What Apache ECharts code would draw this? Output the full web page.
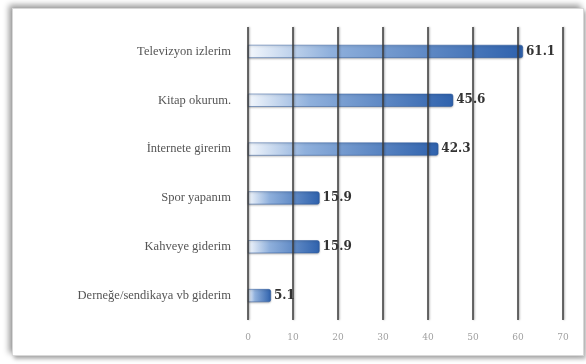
<!DOCTYPE html>
<html>
<head>
<meta charset="utf-8">
<script src="https://cdn.jsdelivr.net/npm/echarts@6/dist/echarts.min.js"></script>
<style>
html,body{margin:0;padding:0;background:#fff;width:586px;height:364px;overflow:hidden;}
#frame{position:absolute;left:12px;top:8px;width:570px;height:346px;background:#fff;border:1px solid #d8d8d8;box-shadow:-3px -3px 6px rgba(0,0,0,0.4),2px 3px 4px rgba(0,0,0,0.3);}
#chart{position:absolute;left:0;top:0;width:586px;height:364px;}
</style>
</head>
<body>
<div id="frame"></div>
<div id="chart"></div>
<script>
const categories = ["Televizyon izlerim","Kitap okurum.","İnternete girerim","Spor yapanım","Kahveye giderim","Derneğe/sendikaya vb giderim"];
const values = [61.1, 45.6, 42.3, 15.9, 15.9, 5.1];
const xTicks = [0, 10, 20, 30, 40, 50, 60, 70];

const chart = echarts.init(document.getElementById('chart'), null, {renderer:'canvas'});
chart.setOption({
  animation:false,
  grid:{left:248, right:23, top:27, bottom:44, containLabel:false},
  xAxis:{
    type:'value', min:xTicks[0], max:xTicks[xTicks.length-1], interval:10, z:5,
    axisLine:{show:false}, axisTick:{show:false},
    axisLabel:{color:'#a0a0a0', fontFamily:'DejaVu Serif', fontSize:9, margin:13},
    splitLine:{show:true, lineStyle:{color:'#3a3a3a', width:1.5, shadowColor:'rgba(0,0,0,0.35)', shadowBlur:2, shadowOffsetX:1}}
  },
  yAxis:{
    type:'category', data:categories, inverse:true,
    axisLine:{show:false}, axisTick:{show:false},
    axisLabel:{color:'#555', fontFamily:'Liberation Serif', fontSize:12.5, margin:17}
  },
  series:[{
    type:'bar', data:values, barWidth:13, z:2,
    itemStyle:{
      color:new echarts.graphic.LinearGradient(0,0,1,0,[
        {offset:0,color:'#f4f8fd'},
        {offset:0.3,color:'#8fb0dc'},
        {offset:1,color:'#2f62ad'}
      ]),
      borderColor:'#2a5699', borderWidth:0.5, borderRadius:[0,2,2,0],
      shadowColor:'rgba(0,0,0,0.25)', shadowBlur:2, shadowOffsetY:1
    },
    label:{show:true, position:'right', distance:3, color:'#333', fontFamily:'DejaVu Serif', fontWeight:'bold', fontSize:12, formatter:p=>p.value.toFixed(1)}
  }]
});
</script>
</body>
</html>
